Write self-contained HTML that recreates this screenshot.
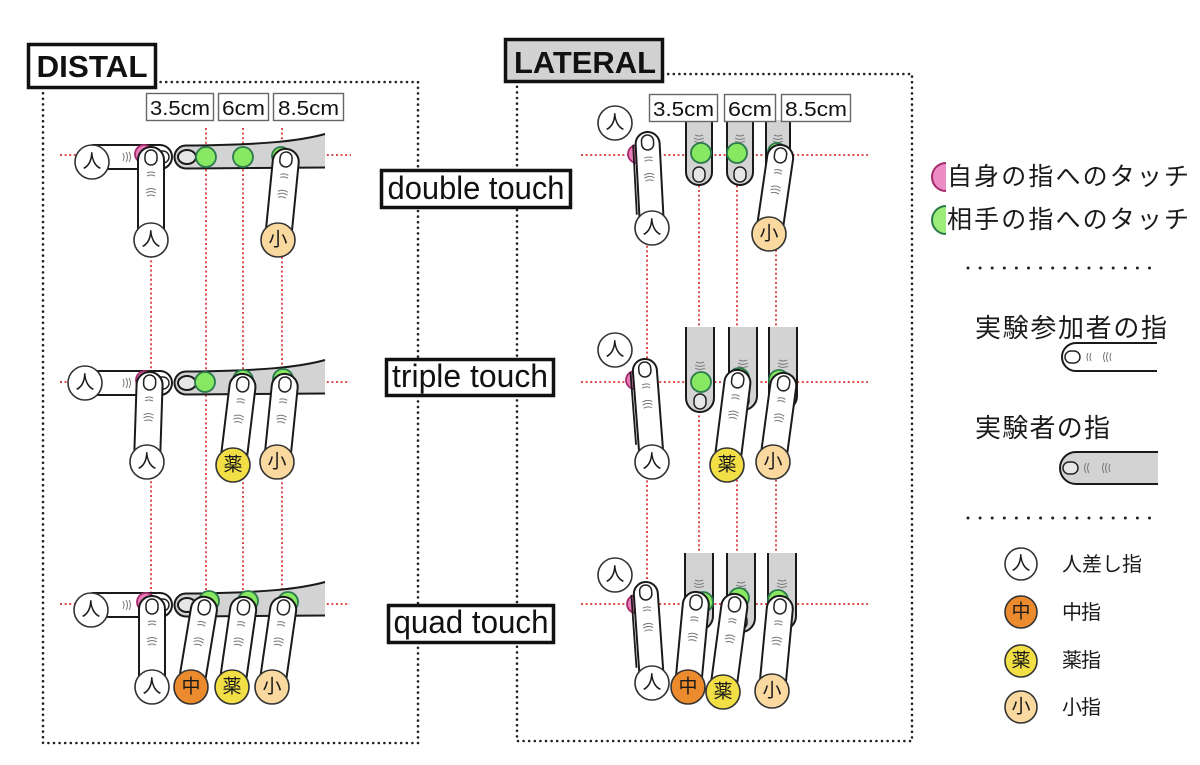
<!DOCTYPE html>
<html><head><meta charset="utf-8">
<style>
html,body{margin:0;padding:0;background:#fff;}
svg{display:block;}
.lat{font-family:"Liberation Sans",Arial,sans-serif;fill:#111;}
.jp{font-family:"Liberation Sans","Noto Sans CJK JP",sans-serif;fill:#1a1a1a;}
.w{fill:#fff;stroke:#1a1a1a;stroke-width:2;}
.g{fill:#d3d3d3;stroke:#1a1a1a;stroke-width:2;}
.pk{fill:#e77cb9;stroke:#a52a6c;stroke-width:1.8;}
.gr{fill:#87e862;stroke:#2c7a4c;stroke-width:1.8;}
.r{stroke:#de4d4d;stroke-width:2;stroke-dasharray:2 2.6;fill:none;}
.bd{fill:none;stroke:#222;stroke-width:2.6;stroke-dasharray:0 5.6;stroke-linecap:round;}
.c{stroke:#333;stroke-width:1.6;}
.ln{fill:none;stroke:#1a1a1a;stroke-width:1.8;}
</style></head><body>
<svg width="1200" height="765" viewBox="0 0 1200 765" xmlns="http://www.w3.org/2000/svg">
<defs>
 <g id="dw">
  <rect x="-6" y="3" width="12" height="15" rx="6" fill="#fff" stroke="#222" stroke-width="1.5"/>
  <path d="M-4 26q4-2 8 0M-4 29q4-2 8 0M-5 43q5-3 10 0M-5 46q5-3 10 0M-4 49q4-2 8 0" fill="none" stroke="#777" stroke-width="1"/>
 </g>
 <g id="dg">
  <rect x="-6" y="3" width="12" height="15" rx="6" fill="#e6e6e6" stroke="#222" stroke-width="1.5"/>
  <path d="M-5 44q5-3 10 0M-5 47q5-3 10 0M-4 50q4-2 8 0" fill="none" stroke="#777" stroke-width="1"/>
 </g>
 <g id="hrow">
  <g transform="translate(172,157) rotate(90)"><path class="w" d="M-12 80V12A12 12 0 0 1 12 12V80"/><use href="#dw"/></g>
  <path class="g" d="M325 134C300 141 262 145 186 145.5A11.5 11.5 0 0 0 186 168.5L325 167.5"/>
  <ellipse cx="187" cy="157" rx="9" ry="7" fill="#e6e6e6" stroke="#1a1a1a" stroke-width="2"/>
 </g>
</defs>

<!-- dotted frames -->
<rect class="bd" x="43" y="82" width="375" height="661"/>
<rect class="bd" x="517" y="74" width="395" height="667"/>

<!-- red guide lines -->
<path class="r" d="M151 150V600M206 128V600M243 128V600M282 128V600M60 155H351M60 382H350M60 604H350M647 140V585M699 121V555M737 121V555M776 121V555M581 155H868M581 382H868M581 604H868"/>

<!-- ===== DISTAL double ===== -->
<use href="#hrow"/>
<circle class="c" cx="92" cy="162" r="17" fill="#fff"/><text class="jp" x="92" y="162" font-size="19" text-anchor="middle" dominant-baseline="central">人</text>
<circle class="gr" cx="206" cy="157" r="10"/>
<circle class="gr" cx="243" cy="157" r="10"/>
<circle class="gr" cx="281" cy="156" r="9"/>
<circle class="pk" cx="144" cy="154" r="9"/>
<g transform="translate(151,147)"><path class="w" d="M-13 93V13A13 13 0 0 1 13 13V93"/><use href="#dw"/></g>
<circle class="c" cx="151" cy="240" r="17" fill="#fff"/><text class="jp" x="151" y="240" font-size="19" text-anchor="middle" dominant-baseline="central">人</text>
<g transform="translate(287,149) rotate(5.65)"><path class="w" d="M-13 91V13A13 13 0 0 1 13 13V91"/><use href="#dw"/></g>
<circle class="c" cx="278" cy="240" r="17" fill="#fad9a0"/><text class="jp" x="278" y="240" font-size="19" text-anchor="middle" dominant-baseline="central">小</text>

<!-- ===== DISTAL triple ===== -->
<use href="#hrow" y="226"/>
<circle class="c" cx="85" cy="383" r="17" fill="#fff"/><text class="jp" x="85" y="383" font-size="19" text-anchor="middle" dominant-baseline="central">人</text>
<circle class="gr" cx="205" cy="382" r="10"/>
<circle class="gr" cx="243" cy="380" r="10"/>
<circle class="gr" cx="283" cy="379" r="10"/>
<circle class="pk" cx="145" cy="380" r="9"/>
<g transform="translate(150,372) rotate(1.9)"><path class="w" d="M-13 90V13A13 13 0 0 1 13 13V90"/><use href="#dw"/></g>
<circle class="c" cx="147" cy="462" r="17" fill="#fff"/><text class="jp" x="147" y="462" font-size="19" text-anchor="middle" dominant-baseline="central">人</text>
<g transform="translate(244,374) rotate(6.9)"><path class="w" d="M-13 92V13A13 13 0 0 1 13 13V92"/><use href="#dw"/></g>
<circle class="c" cx="233" cy="465" r="17" fill="#f2de45"/><text class="jp" x="233" y="465" font-size="19" text-anchor="middle" dominant-baseline="central">薬</text>
<g transform="translate(286,374) rotate(5.8)"><path class="w" d="M-13 88V13A13 13 0 0 1 13 13V88"/><use href="#dw"/></g>
<circle class="c" cx="277" cy="462" r="17" fill="#fad9a0"/><text class="jp" x="277" y="462" font-size="19" text-anchor="middle" dominant-baseline="central">小</text>

<!-- ===== DISTAL quad ===== -->
<use href="#hrow" y="448"/>
<circle class="c" cx="91" cy="610" r="17" fill="#fff"/><text class="jp" x="91" y="610" font-size="19" text-anchor="middle" dominant-baseline="central">人</text>
<circle class="pk" cx="146" cy="602" r="9"/>
<circle class="gr" cx="209" cy="601" r="10"/>
<circle class="gr" cx="248" cy="601" r="10"/>
<circle class="gr" cx="288" cy="602" r="10"/>
<g transform="translate(152,596)"><path class="w" d="M-13 91V13A13 13 0 0 1 13 13V91"/><use href="#dw"/></g>
<g transform="translate(206,597) rotate(9.46)"><path class="w" d="M-13 91V13A13 13 0 0 1 13 13V91"/><use href="#dw"/></g>
<g transform="translate(245,597) rotate(8.2)"><path class="w" d="M-13 91V13A13 13 0 0 1 13 13V91"/><use href="#dw"/></g>
<g transform="translate(285,597) rotate(8.2)"><path class="w" d="M-13 91V13A13 13 0 0 1 13 13V91"/><use href="#dw"/></g>
<circle class="c" cx="152" cy="687" r="17" fill="#fff"/><text class="jp" x="152" y="687" font-size="19" text-anchor="middle" dominant-baseline="central">人</text>
<circle class="c" cx="191" cy="687" r="17" fill="#ec8a2e"/><text class="jp" x="191" y="687" font-size="19" text-anchor="middle" dominant-baseline="central">中</text>
<circle class="c" cx="232" cy="687" r="17" fill="#f2de45"/><text class="jp" x="232" y="687" font-size="19" text-anchor="middle" dominant-baseline="central">薬</text>
<circle class="c" cx="272" cy="687" r="17" fill="#fad9a0"/><text class="jp" x="272" y="687" font-size="19" text-anchor="middle" dominant-baseline="central">小</text>

<!-- ===== LATERAL double ===== -->
<circle class="c" cx="615" cy="123" r="17" fill="#fff"/><text class="jp" x="615" y="123" font-size="19" text-anchor="middle" dominant-baseline="central">人</text>
<g transform="translate(699,185) rotate(180)"><path class="g" d="M-13 65V13A13 13 0 0 1 13 13V65"/><use href="#dg"/></g>
<g transform="translate(740,185) rotate(180)"><path class="g" d="M-13 65V13A13 13 0 0 1 13 13V65"/><use href="#dg"/></g>
<g transform="translate(778,185) rotate(180)"><path class="g" d="M-12 65V12A12 12 0 0 1 12 12V65"/><use href="#dg"/></g>
<circle class="gr" cx="701" cy="153" r="10"/>
<circle class="gr" cx="737" cy="153" r="10"/>
<circle class="gr" cx="777" cy="152" r="9"/>
<circle class="pk" cx="637" cy="154" r="9"/>
<g transform="translate(647,132) rotate(-3)"><path class="w" d="M-12 96V12A12 12 0 0 1 12 12V96"/><path class="ln" d="M-14.5 12V82"/><use href="#dw"/></g>
<circle class="c" cx="652" cy="228" r="17" fill="#fff"/><text class="jp" x="652" y="228" font-size="19" text-anchor="middle" dominant-baseline="central">人</text>
<g transform="translate(782,145) rotate(8.3)"><path class="w" d="M-13 90V13A13 13 0 0 1 13 13V90"/><use href="#dw"/></g>
<circle class="c" cx="769" cy="234" r="17" fill="#fad9a0"/><text class="jp" x="769" y="234" font-size="19" text-anchor="middle" dominant-baseline="central">小</text>

<!-- ===== LATERAL triple ===== -->
<circle class="c" cx="615" cy="350" r="17" fill="#fff"/><text class="jp" x="615" y="350" font-size="19" text-anchor="middle" dominant-baseline="central">人</text>
<g transform="translate(700,412) rotate(180)"><path class="g" d="M-14 85V14A14 14 0 0 1 14 14V85"/><use href="#dg"/></g>
<g transform="translate(743,410) rotate(180)"><path class="g" d="M-14 83V14A14 14 0 0 1 14 14V83"/><use href="#dg"/></g>
<g transform="translate(783,410) rotate(180)"><path class="g" d="M-14 83V14A14 14 0 0 1 14 14V83"/><use href="#dg"/></g>
<circle class="gr" cx="701" cy="382" r="10"/>
<circle class="gr" cx="739" cy="378" r="10"/>
<circle class="gr" cx="779" cy="380" r="10"/>
<circle class="pk" cx="635" cy="380" r="9"/>
<g transform="translate(644,359) rotate(-4.4)"><path class="w" d="M-12 103V12A12 12 0 0 1 12 12V103"/><path class="ln" d="M-14.5 12V85"/><use href="#dw"/></g>
<circle class="c" cx="652" cy="462" r="17" fill="#fff"/><text class="jp" x="652" y="462" font-size="19" text-anchor="middle" dominant-baseline="central">人</text>
<g transform="translate(739,370) rotate(7.2)"><path class="w" d="M-13 96V13A13 13 0 0 1 13 13V96"/><use href="#dw"/></g>
<circle class="c" cx="727" cy="465" r="17" fill="#f2de45"/><text class="jp" x="727" y="465" font-size="19" text-anchor="middle" dominant-baseline="central">薬</text>
<g transform="translate(785,373) rotate(7.7)"><path class="w" d="M-13 90V13A13 13 0 0 1 13 13V90"/><use href="#dw"/></g>
<circle class="c" cx="773" cy="462" r="17" fill="#fad9a0"/><text class="jp" x="773" y="462" font-size="19" text-anchor="middle" dominant-baseline="central">小</text>

<!-- ===== LATERAL quad ===== -->
<circle class="c" cx="615" cy="575" r="17" fill="#fff"/><text class="jp" x="615" y="575" font-size="19" text-anchor="middle" dominant-baseline="central">人</text>
<g transform="translate(699,630) rotate(180)"><path class="g" d="M-14 77V14A14 14 0 0 1 14 14V77"/><use href="#dg"/></g>
<g transform="translate(741,632) rotate(180)"><path class="g" d="M-14 79V14A14 14 0 0 1 14 14V79"/><use href="#dg"/></g>
<g transform="translate(782,630) rotate(180)"><path class="g" d="M-14 77V14A14 14 0 0 1 14 14V77"/><use href="#dg"/></g>
<circle class="gr" cx="703" cy="602" r="10"/>
<circle class="gr" cx="739" cy="598" r="10"/>
<circle class="gr" cx="778" cy="600" r="10"/>
<circle class="pk" cx="636" cy="604" r="9"/>
<g transform="translate(645,582) rotate(-4)"><path class="w" d="M-12 101V12A12 12 0 0 1 12 12V101"/><path class="ln" d="M-14.5 12V85"/><use href="#dw"/></g>
<g transform="translate(697,592) rotate(5.4)"><path class="w" d="M-13 95V13A13 13 0 0 1 13 13V95"/><use href="#dw"/></g>
<g transform="translate(736,594) rotate(7.6)"><path class="w" d="M-13 99V13A13 13 0 0 1 13 13V99"/><use href="#dw"/></g>
<g transform="translate(781,596) rotate(5.4)"><path class="w" d="M-13 95V13A13 13 0 0 1 13 13V95"/><use href="#dw"/></g>
<circle class="c" cx="652" cy="683" r="17" fill="#fff"/><text class="jp" x="652" y="683" font-size="19" text-anchor="middle" dominant-baseline="central">人</text>
<circle class="c" cx="688" cy="687" r="17" fill="#ec8a2e"/><text class="jp" x="688" y="687" font-size="19" text-anchor="middle" dominant-baseline="central">中</text>
<circle class="c" cx="723" cy="692" r="17" fill="#f2de45"/><text class="jp" x="723" y="692" font-size="19" text-anchor="middle" dominant-baseline="central">薬</text>
<circle class="c" cx="772" cy="691" r="17" fill="#fad9a0"/><text class="jp" x="772" y="691" font-size="19" text-anchor="middle" dominant-baseline="central">小</text>

<!-- ===== labels ===== -->
<rect x="28.5" y="44.5" width="127" height="43" fill="#fff" stroke="#111" stroke-width="3.5"/>
<text class="lat" x="92" y="77" font-size="31" font-weight="bold" text-anchor="middle" textLength="111" lengthAdjust="spacingAndGlyphs">DISTAL</text>
<rect x="505.5" y="39.5" width="157" height="42" fill="#d2d2d2" stroke="#111" stroke-width="3.5"/>
<text class="lat" x="585" y="73" font-size="31" font-weight="bold" text-anchor="middle" textLength="142" lengthAdjust="spacingAndGlyphs">LATERAL</text>

<rect x="381.5" y="170.5" width="189" height="37" fill="#fff" stroke="#111" stroke-width="3.5"/>
<text class="lat" x="476" y="199" font-size="32" text-anchor="middle" textLength="177" lengthAdjust="spacingAndGlyphs">double touch</text>
<rect x="386.5" y="359.5" width="167" height="36" fill="#fff" stroke="#111" stroke-width="3.5"/>
<text class="lat" x="470" y="387" font-size="32" text-anchor="middle" textLength="156" lengthAdjust="spacingAndGlyphs">triple touch</text>
<rect x="388.5" y="605.5" width="165" height="37" fill="#fff" stroke="#111" stroke-width="3.5"/>
<text class="lat" x="471" y="633" font-size="32" text-anchor="middle" textLength="155" lengthAdjust="spacingAndGlyphs">quad touch</text>

<g fill="#fff" stroke="#666" stroke-width="1.4">
<rect x="146.5" y="93.5" width="67" height="27"/>
<rect x="218.5" y="93.5" width="50" height="27"/>
<rect x="273.5" y="93.5" width="70" height="27"/>
<rect x="649.5" y="94.5" width="68" height="27"/>
<rect x="724.5" y="94.5" width="51" height="27"/>
<rect x="781.5" y="94.5" width="69" height="27"/>
</g>
<g class="lat" font-size="20" text-anchor="middle">
<text x="180" y="115" textLength="60" lengthAdjust="spacingAndGlyphs">3.5cm</text>
<text x="243.5" y="115" textLength="43" lengthAdjust="spacingAndGlyphs">6cm</text>
<text x="308.5" y="115" textLength="61" lengthAdjust="spacingAndGlyphs">8.5cm</text>
<text x="683.5" y="116" textLength="61" lengthAdjust="spacingAndGlyphs">3.5cm</text>
<text x="750" y="116" textLength="44" lengthAdjust="spacingAndGlyphs">6cm</text>
<text x="816" y="116" textLength="62" lengthAdjust="spacingAndGlyphs">8.5cm</text>
</g>

<!-- ===== legend ===== -->
<path d="M946 163A14 14 0 0 0 946 191Z" fill="#ec8cc4"/>
<path d="M946 163A14 14 0 0 0 946 191" fill="none" stroke="#a52a6c" stroke-width="2"/>
<text class="jp" x="947" y="177" font-size="25" dominant-baseline="central" textLength="242" lengthAdjust="spacing">自身の指へのタッチ</text>
<path d="M946 206A14 14 0 0 0 946 234Z" fill="#9bec78"/>
<path d="M946 206A14 14 0 0 0 946 234" fill="none" stroke="#2c7a4c" stroke-width="2"/>
<text class="jp" x="947" y="220" font-size="25" dominant-baseline="central" textLength="242" lengthAdjust="spacing">相手の指へのタッチ</text>

<line x1="968" y1="268" x2="1150" y2="268" stroke="#222" stroke-width="3" stroke-dasharray="0 12.1" stroke-linecap="round"/>

<text class="jp" x="975" y="328" font-size="26" dominant-baseline="central" textLength="192" lengthAdjust="spacing">実験参加者の指</text>
<g transform="translate(1062,357) rotate(-90)"><path class="w" d="M-14 95V14A14 14 0 0 1 14 14V95"/><use href="#dw"/></g>

<text class="jp" x="975" y="428" font-size="26" dominant-baseline="central" textLength="135" lengthAdjust="spacing">実験者の指</text>
<g transform="translate(1060,468) rotate(-90)"><path class="g" d="M-16 98V16A16 16 0 0 1 16 16V98"/><use href="#dg"/><path d="M-5 26q5-3 10 0M-5 29q5-3 10 0" fill="none" stroke="#777" stroke-width="1"/></g>

<line x1="968" y1="518" x2="1150" y2="518" stroke="#222" stroke-width="3" stroke-dasharray="0 12.1" stroke-linecap="round"/>

<circle class="c" cx="1021" cy="564" r="16" fill="#fff"/><text class="jp" x="1021" y="564" font-size="19" text-anchor="middle" dominant-baseline="central">人</text>
<text class="jp" x="1062" y="565" font-size="20" dominant-baseline="central" textLength="80" lengthAdjust="spacing">人差し指</text>
<circle class="c" cx="1021" cy="612" r="16" fill="#ec8a2e"/><text class="jp" x="1021" y="612" font-size="19" text-anchor="middle" dominant-baseline="central">中</text>
<text class="jp" x="1062" y="613" font-size="20" dominant-baseline="central" textLength="39" lengthAdjust="spacing">中指</text>
<circle class="c" cx="1021" cy="661" r="16" fill="#f2de45"/><text class="jp" x="1021" y="661" font-size="19" text-anchor="middle" dominant-baseline="central">薬</text>
<text class="jp" x="1062" y="661" font-size="20" dominant-baseline="central" textLength="39" lengthAdjust="spacing">薬指</text>
<circle class="c" cx="1021" cy="707" r="16" fill="#fad9a0"/><text class="jp" x="1021" y="707" font-size="19" text-anchor="middle" dominant-baseline="central">小</text>
<text class="jp" x="1062" y="708" font-size="20" dominant-baseline="central" textLength="39" lengthAdjust="spacing">小指</text>
</svg>
</body></html>
